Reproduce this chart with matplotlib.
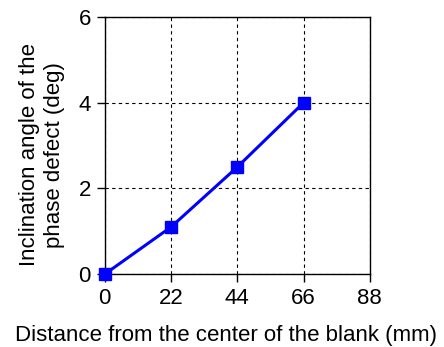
import matplotlib
matplotlib.use("Agg")
import matplotlib.pyplot as plt

plt.rcParams['font.family'] = ['Liberation Sans', 'DejaVu Sans']

distance = [0, 22, 44, 66]
angle = [0.0, 1.1, 2.5, 4.0]
x_ticks = [0, 22, 44, 66, 88]
y_ticks = [0, 2, 4, 6]

fig = plt.figure(figsize=(4.44, 3.47), dpi=100)
ax = fig.add_axes([0.236, 0.21, 0.597, 0.741])

ax.plot(distance, angle, color='#0000ff', lw=2.2, marker='s', markersize=8,
        clip_on=False, zorder=3)

ax.set_xlim(0, 88)
ax.set_ylim(0, 6)
ax.set_xticks(x_ticks)
ax.set_yticks(y_ticks)
ax.tick_params(labelsize=16, direction='out', length=6, width=1, color='black', pad=4)
ax.grid(True, color='black', linestyle=(0, (3, 3)), linewidth=0.8)
for s in ax.spines.values():
    s.set_linewidth(1)

ax.set_ylabel('Inclination angle of the\nphase defect (deg)', fontsize=16,
              linespacing=1.25, labelpad=10)
ax.yaxis.label.set_y(0.465)  # label sits a bit lower than the axes centre
fig.text(0.509, 0.017, 'Distance from the center of the blank (mm)', fontsize=16,
         ha='center', va='baseline')

fig.savefig('out.png', dpi=100)
